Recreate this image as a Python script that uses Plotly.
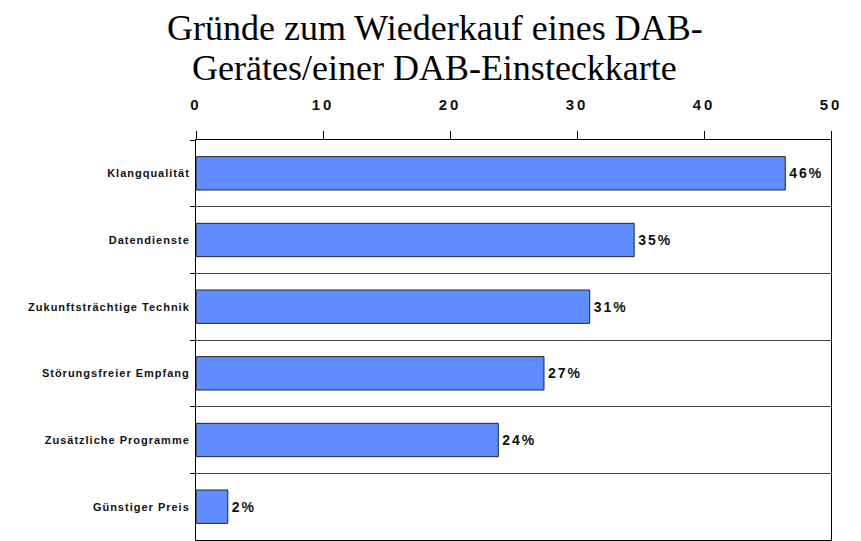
import plotly.graph_objects as go

categories = ["Klangqualität", "Datendienste", "Zukunftsträchtige Technik",
              "Störungsfreier Empfang", "Zusätzliche Programme", "Günstiger Preis"]
values = [46.4, 34.5, 31.0, 27.4, 23.8, 2.5]
labels = ["46%", "35%", "31%", "27%", "24%", "2%"]
x_ticks = [0, 10, 20, 30, 40, 50]
title_lines = ["Gründe zum Wiederkauf eines DAB-", "Gerätes/einer DAB-Einsteckkarte"]

fig = go.Figure(go.Bar(
    y=categories, x=values, orientation="h",
    text=labels, textposition="outside", cliponaxis=False,
    textfont=dict(family="Liberation Sans", size=14, color="#111", weight="bold"),
    marker=dict(color="#5f8cff", line=dict(color="#222", width=1)),
    width=0.5,
))

# title as two tightly spaced lines
for i, line in enumerate(title_lines):
    fig.add_annotation(
        text=line, xref="paper", yref="paper", x=0.376, y=1.279 - 0.1 * i,
        xanchor="center", yanchor="middle", showarrow=False,
        font=dict(family="Liberation Serif", size=36, color="black"),
    )

fig.update_layout(
    width=853, height=533,
    margin=dict(l=188, r=30, t=132, b=1),
    paper_bgcolor="white", plot_bgcolor="white",
    showlegend=False,
    xaxis=dict(side="top", range=[0, 50], tickvals=x_ticks, ticks="outside", ticklen=8,
               tickcolor="black", showgrid=False, zeroline=False,
               showline=True, linecolor="black", linewidth=1, mirror=True,
               tickfont=dict(family="Liberation Sans", size=15, color="#111", weight="bold"),
               ticklabelstandoff=15),
    yaxis=dict(autorange="reversed", tickson="boundaries", ticks="outside", ticklen=5,
               tickcolor="black", showgrid=True, gridcolor="#444", gridwidth=1,
               showline=True, linecolor="black", linewidth=1, mirror=True,
               tickfont=dict(family="Liberation Sans", size=11, color="#111", weight="bold"),
               ticklabelstandoff=3),
)

post = """
var gd = document.getElementById('{plot_id}');
function spacing() {
  gd.querySelectorAll('.ytick text').forEach(function(t){ t.style.letterSpacing = '1px'; });
  gd.querySelectorAll('.xtick text').forEach(function(t){ t.style.letterSpacing = '3px'; });
  gd.querySelectorAll('text.bartext').forEach(function(t){
    if (t.getAttribute('data-ls') === '1') return;
    var bb = t.getBBox();
    t.setAttribute('text-anchor', 'start');
    t.setAttribute('x', bb.x + 1);
    t.style.letterSpacing = '2px';
    t.setAttribute('data-ls', '1');
  });
}
spacing();
setTimeout(spacing, 0);
if (gd.on) { gd.on('plotly_afterplot', spacing); }
"""

fig.write_html("out.html", post_script=post)
